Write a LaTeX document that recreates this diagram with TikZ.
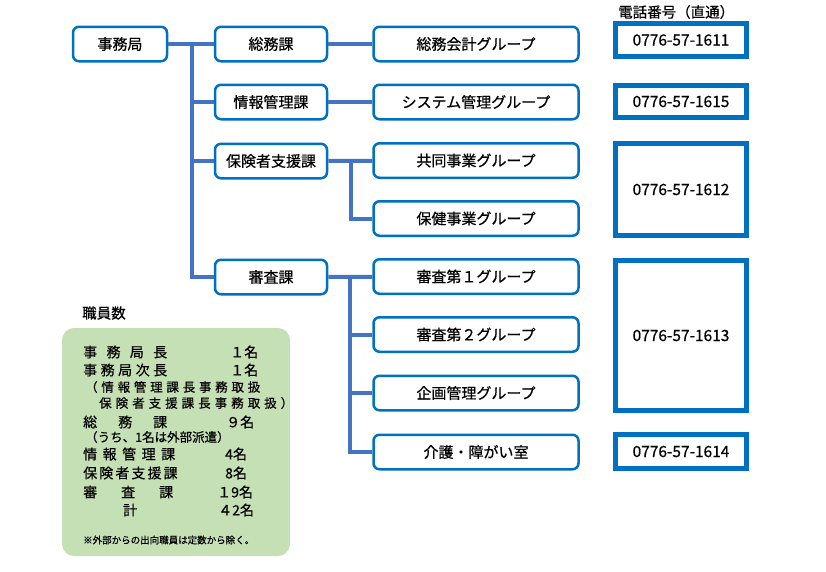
\documentclass[tikz,border=0pt]{standalone}
\usepackage{fontspec}
\setmainfont{Noto Sans CJK JP}[FakeBold=0.6]
\definecolor{boxblue}{RGB}{0,112,192}
\definecolor{lineblue}{RGB}{68,114,196}
\definecolor{staffgreen}{RGB}{197,224,180}
\newcommand{\spread}[2]{\makebox[#1][s]{#2}}

\begin{document}
\begin{tikzpicture}[x=1pt,y=-1pt,
    unit/.style={draw=boxblue, line width=2.5pt, rounded corners=6pt, fill=white,
      inner sep=0pt, minimum height=34.5pt, font=\fontsize{15}{17}\selectfont},
    ka/.style={unit, minimum width=112pt},
    grp/.style={unit, minimum width=205pt},
    tel/.style={draw=boxblue, line width=5pt, inner sep=0pt, minimum width=131pt,
      font=\fontsize{15.5}{18}\selectfont},
    conn/.style={draw=lineblue, line width=4pt},
    head/.style={anchor=west, inner sep=0pt, font=\fontsize{14.5}{16}\selectfont},
    staff/.style={anchor=west, inner sep=0pt, font=\fontsize{14}{15}\selectfont}]
    \useasboundingbox (0,0) rectangle (826,571);

    % org chart
    \node[ka, minimum width=94pt] (jimu) at (120,44) {事務局};
    \node[ka] (soumu) at (271,44) {総務課};
    \node[ka] (joho) at (271,102) {情報管理課};
    \node[ka] (hoken) at (271,161) {保険者支援課};
    \node[ka] (shinsa) at (271,277) {審査課};

    \node[grp] (kaikei) at (476,44) {総務会計グループ};
    \node[grp] (system) at (476,102) {システム管理グループ};
    \node[grp] (kyodo) at (476,160.5) {共同事業グループ};
    \node[grp] (hokenjigyo) at (476,218.5) {保健事業グループ};
    \node[grp] (shinsa1) at (476,276.5) {審査第１グループ};
    \node[grp] (shinsa2) at (476,334.5) {審査第２グループ};
    \node[grp] (kikaku) at (476,393) {企画管理グループ};
    \node[grp] (kaigo) at (476,452) {介護・障がい室};

    \draw[conn] (jimu) -- (soumu);
    \draw[conn] (soumu) -- (kaikei);
    \draw[conn] (joho) -- (system);
    \draw[conn] (hoken) -- (kyodo);
    \draw[conn] (shinsa) -- (shinsa1);
    \coordinate (trunk) at (191.5,44);
    \foreach \k in {joho,hoken,shinsa}
        \draw[conn] (trunk) |- (\k);
    \coordinate (hokenbr) at (351,160.5);
    \draw[conn] (hokenbr) |- (hokenjigyo);
    \coordinate (shinsabr) at (349.5,276.5);
    \foreach \g in {shinsa2,kikaku,kaigo}
        \draw[conn] (shinsabr) |- (\g);

    % direct numbers
    \node[head] (telhead) at (618,12) {電話番号（直通）};
    \node[tel, minimum height=33pt] (tel1) at (681,40) {0776-57-1611};
    \node[tel, minimum height=32pt] (tel5) at (681,101.5) {0776-57-1615};
    \node[tel, minimum height=92pt] (tel2) at (681,189.5) {0776-57-1612};
    \node[tel, minimum height=150pt] (tel3) at (681,335.5) {0776-57-1613};
    \node[tel, minimum height=34pt] (tel4) at (681,451.5) {0776-57-1614};

    % staff numbers
    \node[head] (stafftitle) at (82,313) {職員数};
    \node[fill=staffgreen, rounded corners=12pt, inner sep=0pt,
      minimum width=228pt, minimum height=228pt] (staffbox) at (176,442) {};
    \node[staff] (s1) at (83,352) {\spread{84pt}{事 務 局 長}};
    \node[staff] (n1) at (230,352) {１名};
    \node[staff] (s2) at (83,370) {\spread{84pt}{事 務 局 次 長}};
    \node[staff] (n2) at (230,370) {１名};
    \node[staff, font=\fontsize{12.5}{14}\selectfont] (s3) at (85,387)
      {\spread{175pt}{（ 情 報 管 理 課 長 事 務 取 扱}};
    \node[staff, font=\fontsize{12.5}{14}\selectfont] (s4) at (99,403)
      {\spread{194pt}{保 険 者 支 援 課 長 事 務 取 扱 ）}};
    \node[staff] (s5) at (83,422) {\spread{84pt}{総 務 課}};
    \node[staff] (n5) at (226,422) {９名};
    \node[staff, font=\fontsize{12.5}{14}\selectfont] (s6) at (85,437) {（うち、1名は外部派遣）};
    \node[staff] (s7) at (83,454) {\spread{92pt}{情 報 管 理 課}};
    \node[staff] (n7) at (225,454) {4名};
    \node[staff] (s8) at (83,473) {\spread{92pt}{保 険 者 支 援 課}};
    \node[staff] (n8) at (225,473) {8名};
    \node[staff] (s9) at (83,492) {\spread{90pt}{審 査 課}};
    \node[staff] (n9) at (217,492) {１9名};
    \node[staff] (s10) at (123,510) {計};
    \node[staff] (n10) at (218,510) {４2名};
    \node[staff, font=\fontsize{9.5}{11}\selectfont] (note) at (83,540)
      {※外部からの出向職員は定数から除く。};
\end{tikzpicture}
\end{document}
